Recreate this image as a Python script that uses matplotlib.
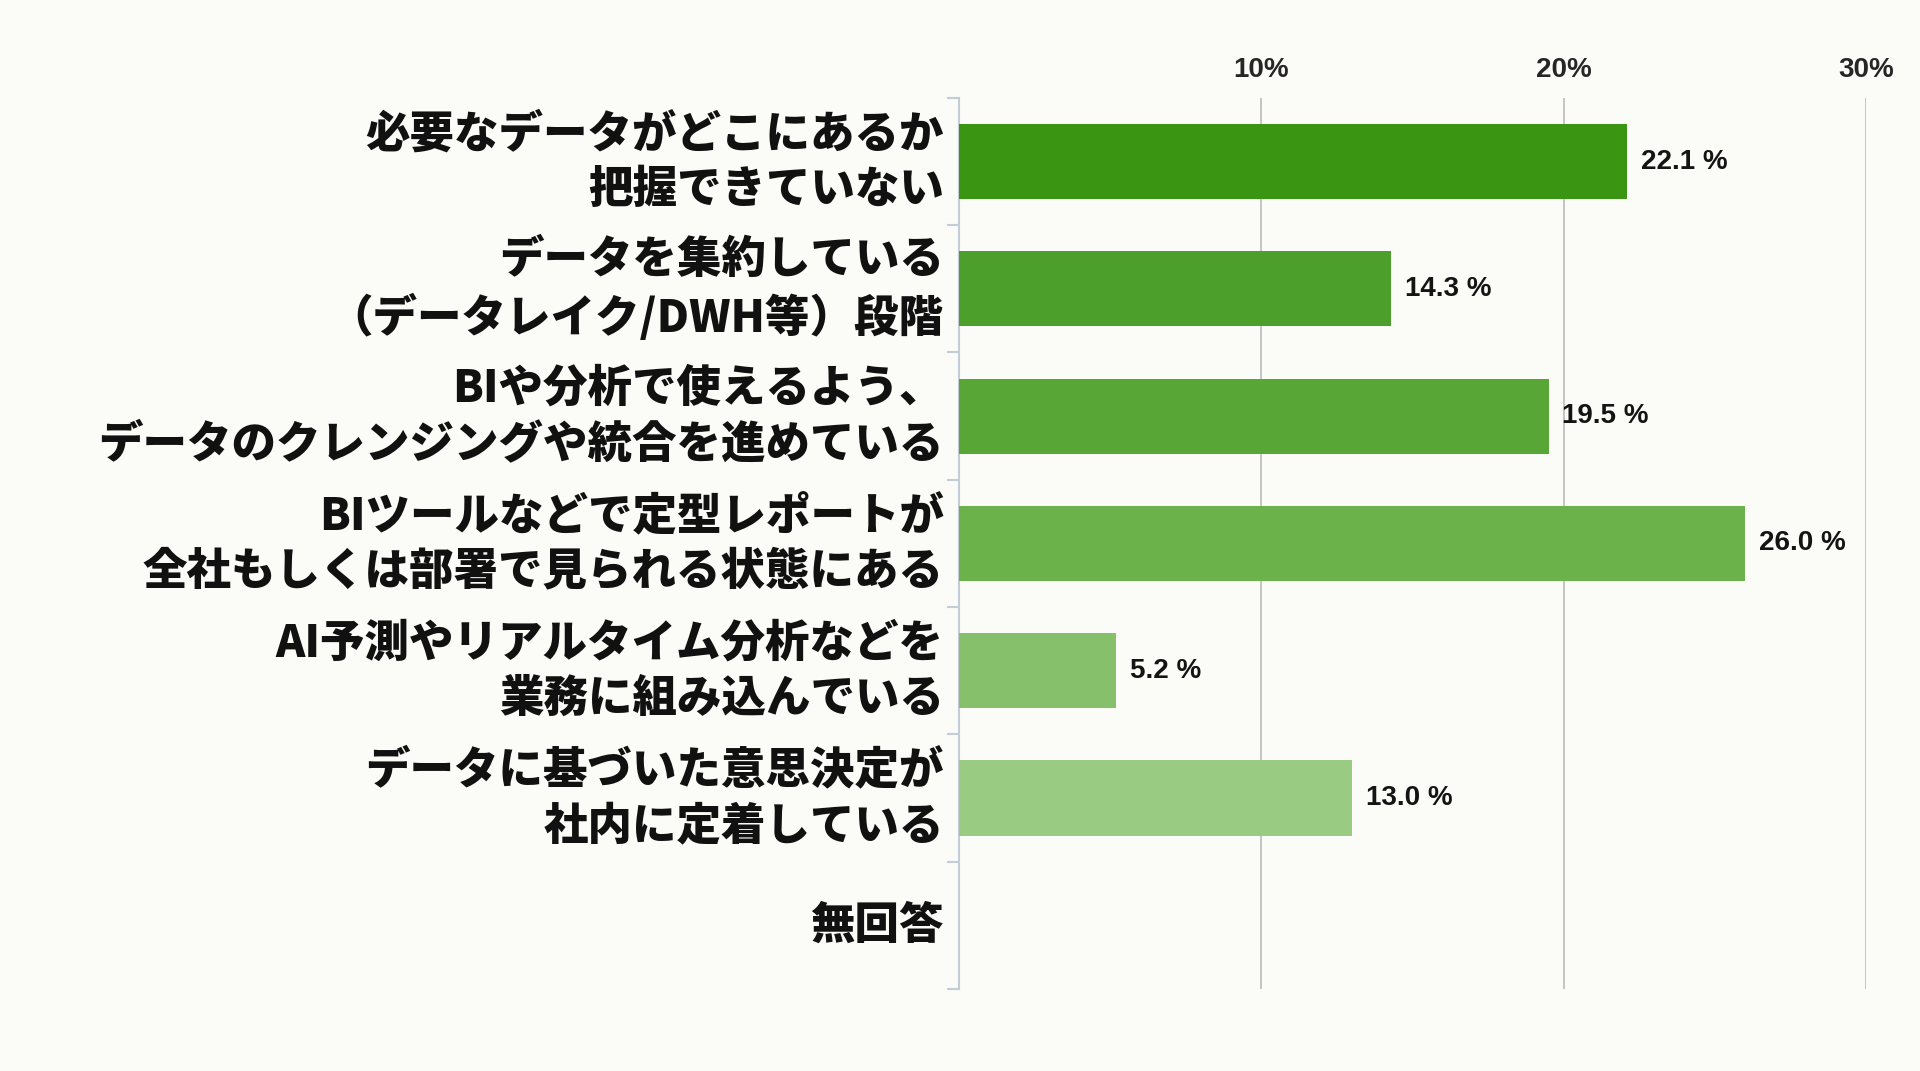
import numpy as np
import matplotlib.pyplot as plt
from matplotlib.ticker import MultipleLocator

plt.rcParams['font.family'] = ['Noto Sans CJK JP', 'DejaVu Sans']

# data
categories = [
    '必要なデータがどこにあるか\n把握できていない',
    'データを集約している\n（データレイク/DWH等）段階',
    'BIや分析で使えるよう、\nデータのクレンジングや統合を進めている',
    'BIツールなどで定型レポートが\n全社もしくは部署で見られる状態にある',
    'AI予測やリアルタイム分析などを\n業務に組み込んでいる',
    'データに基づいた意思決定が\n社内に定着している',
    '無回答',
]
values = [22.1, 14.3, 19.5, 26.0, 5.2, 13.0, None]
bar_colors = ['#3a9512', '#4c9f2a', '#58a636', '#6cb24a', '#86c06a', '#9acb82', '#ffffff']
xticks = [10, 20, 30]
xtick_labels = ['10%', '20%', '30%']

bg = '#fbfbf8'
fig = plt.figure(figsize=(19.2, 10.71), dpi=100, facecolor=bg)
ax = fig.add_axes([0.4995, 0.0766, 0.4724, 0.832], facecolor=bg)

y = np.arange(len(categories))
for i, v in enumerate(values):
    if v is None:
        continue
    ax.barh(y[i], v, height=0.59, color=bar_colors[i], zorder=3)
    ax.text(v + 0.45, y[i], f'{v:.1f} %', va='center', ha='left',
            fontsize=20, fontweight='bold', color='#141414',
            family=['Liberation Sans', 'DejaVu Sans'], zorder=4)

ax.set_xlim(0, 30)
ax.set_ylim(len(categories) - 0.5, -0.5)

ax.set_xticks(xticks, labels=xtick_labels)
ax.xaxis.tick_top()
ax.tick_params(axis='x', length=0, pad=11, labelsize=20, labelcolor='#262626')
for t in ax.get_xticklabels():
    t.set_fontweight('bold')
    t.set_family(['Liberation Sans', 'DejaVu Sans'])
ax.grid(axis='x', color='#c4c4c4', linewidth=1.4, zorder=0)

ax.set_yticks(y, labels=categories)
ax.yaxis.set_minor_locator(MultipleLocator(1))
ax.set_yticks(np.arange(-0.5, len(categories), 1), minor=True)
ax.tick_params(axis='y', which='major', length=0, pad=11, labelsize=32)
ax.tick_params(axis='y', which='minor', length=9, width=1.5, color='#c3ccd9')
for t in ax.get_yticklabels():
    t.set_fontweight('heavy')
    t.set_linespacing(1.3)
    t.set_multialignment('right')
    t.set_verticalalignment('center')
    t.set_color('#111111')

for s in ['top', 'right', 'bottom']:
    ax.spines[s].set_visible(False)
ax.spines['left'].set_color('#c3ccd9')
ax.spines['left'].set_linewidth(1.5)

fig.savefig('out.png', dpi=100, facecolor=bg)
